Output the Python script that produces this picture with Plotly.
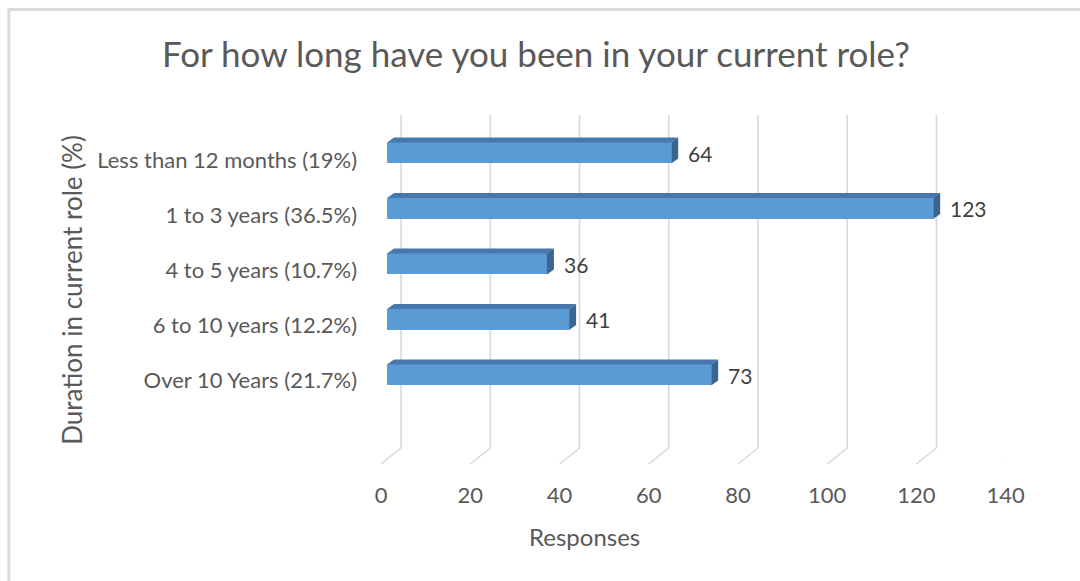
import plotly.graph_objects as go

# Survey responses by time spent in the current role
categories = [
    "Less than 12 months (19%)",
    "1 to 3 years (36.5%)",
    "4 to 5 years (10.7%)",
    "6 to 10 years (12.2%)",
    "Over 10 Years (21.7%)",
]
responses = [64, 123, 36, 41, 73]
x_ticks = [0, 20, 40, 60, 80, 100, 120, 140]

W, H = 1080, 581
FONT = "Lato"
GREY = "#595959"
FRONT = "#5b9bd5"
TOP = "#4678ad"
SIDE = "#396591"
GRID = "#d9d9d9"

# Horizontal mapping of the displayed page (scale and offset in px)
X_SCALE, X_OFFSET = 0.979, 6.1


def px_x(p):
    return (p - X_OFFSET) / X_SCALE / W


def px_y(p):
    return 1 - p / H


# Axis geometry (pixels)
LABEL_X0, LABEL_X1 = 382, 1008      # front plane: tick labels
BAR_X0, BAR_X1 = 388, 1011          # bar front faces
X_MAX = 140
LBL_Y0, LBL_STEP = 160, 55          # category label rows
BAR_Y0, BAR_STEP = 153, 55.5        # bar rows
BAR_H = 21                          # bar thickness (px)
DEPTH = (7, 5)                      # 3-D depth offset (px right, px up)
GRID_TOP, GRID_BOT, FLOOR = 115, 448, 464
BACK_SHIFT = 20                     # back wall offset from the front plane

n = len(categories)
idx = list(range(n))

bar_ppu_x = (BAR_X1 - BAR_X0) / X_MAX
dxu = DEPTH[0] / bar_ppu_x
dyu = -DEPTH[1] / BAR_STEP
half = BAR_H / 2 / BAR_STEP

fig = go.Figure()

# Front faces of the bars
fig.add_trace(go.Bar(
    x=responses, y=idx, orientation="h", width=2 * half,
    marker=dict(color=FRONT, line=dict(width=0)),
    xaxis="x2", yaxis="y2", hoverinfo="skip", showlegend=False,
))

# Top and side faces
top_x, top_y, side_x, side_y = [], [], [], []
for i, v in zip(idx, responses):
    y_top = i - half
    y_bot = i + half
    top_x += [0, v, v + dxu, dxu, 0, None]
    top_y += [y_top, y_top, y_top + dyu, y_top + dyu, y_top, None]
    side_x += [v, v + dxu, v + dxu, v, v, None]
    side_y += [y_top, y_top + dyu, y_bot + dyu, y_bot, y_top, None]

fig.add_trace(go.Scatter(
    x=top_x, y=top_y, mode="lines", fill="toself", fillcolor=TOP,
    line=dict(width=0, color=TOP), xaxis="x2", yaxis="y2",
    hoverinfo="skip", showlegend=False,
))
fig.add_trace(go.Scatter(
    x=side_x, y=side_y, mode="lines", fill="toself", fillcolor=SIDE,
    line=dict(width=0, color=SIDE), xaxis="x2", yaxis="y2",
    hoverinfo="skip", showlegend=False,
))

# Value labels
annotations = []
for i, v in zip(idx, responses):
    annotations.append(dict(
        x=v, y=i, xref="x2", yref="y2", text=str(v), showarrow=False,
        xanchor="left", yanchor="middle", xshift=DEPTH[0] + 8, yshift=0,
        font=dict(family=FONT, size=21, color="#404040"),
    ))

# Chart title and axis titles
annotations += [
    dict(x=px_x(537), y=px_y(53), xref="paper", yref="paper",
         text="For how long have you been in your current role?",
         showarrow=False, xanchor="center", yanchor="middle",
         font=dict(family=FONT, size=35, color=GREY)),
    dict(x=px_x(586), y=px_y(536), xref="paper", yref="paper",
         text="Responses", showarrow=False, xanchor="center", yanchor="middle",
         font=dict(family=FONT, size=24, color=GREY)),
    dict(x=px_x(72), y=px_y(290), xref="paper", yref="paper",
         text="Duration in current role (%)", showarrow=False, textangle=-90,
         xanchor="center", yanchor="middle",
         font=dict(family=FONT, size=26, color=GREY)),
]

# Gridlines: back wall verticals plus floor diagonals
shapes = []
for t in x_ticks:
    shapes.append(dict(
        type="line", xref="x", xsizemode="pixel", xanchor=t,
        x0=BACK_SHIFT, x1=BACK_SHIFT, yref="paper",
        y0=px_y(GRID_BOT), y1=px_y(GRID_TOP),
        line=dict(color=GRID, width=1.6), layer="below",
    ))
    shapes.append(dict(
        type="line", xref="x", xsizemode="pixel", xanchor=t,
        x0=0, x1=BACK_SHIFT, yref="paper",
        y0=px_y(FLOOR), y1=px_y(GRID_BOT),
        line=dict(color=GRID, width=1.6), layer="below",
    ))

# Chart frame
shapes.append(dict(
    type="rect", xref="paper", yref="paper",
    x0=px_x(9), x1=px_x(W + 40), y0=px_y(H + 20), y1=px_y(9.5),
    line=dict(color="#d9d9d9", width=3), fillcolor="rgba(0,0,0,0)",
    layer="below",
))

fig.update_layout(
    width=W, height=H,
    margin=dict(l=0, r=0, t=0, b=0),
    paper_bgcolor="white", plot_bgcolor="rgba(0,0,0,0)",
    showlegend=False,
    bargap=0,
    xaxis=dict(
        domain=[px_x(LABEL_X0), px_x(LABEL_X1)], range=[0, X_MAX],
        tickvals=x_ticks, showgrid=False, zeroline=False, showline=False,
        anchor="free", position=px_y(FLOOR), ticks="",
        ticklabelstandoff=16, fixedrange=True,
        tickfont=dict(family=FONT, size=22, color=GREY),
    ),
    yaxis=dict(
        domain=[px_y(LBL_Y0 + (n - 0.5) * LBL_STEP), px_y(LBL_Y0 - 0.5 * LBL_STEP)],
        range=[n - 0.5, -0.5], tickvals=idx, ticktext=categories,
        showgrid=False, zeroline=False, showline=False,
        anchor="free", position=px_x(358), ticks="", ticklabelstandoff=0,
        fixedrange=True,
        tickfont=dict(family=FONT, size=22, color=GREY),
    ),
    xaxis2=dict(
        domain=[px_x(BAR_X0), px_x(BAR_X1)], range=[0, X_MAX],
        anchor="y2", visible=False, fixedrange=True,
    ),
    yaxis2=dict(
        domain=[px_y(BAR_Y0 + (n - 0.5) * BAR_STEP), px_y(BAR_Y0 - 0.5 * BAR_STEP)],
        range=[n - 0.5, -0.5], anchor="x2", visible=False, fixedrange=True,
    ),
    annotations=annotations,
    shapes=shapes,
)

fig.write_html("out.html")
